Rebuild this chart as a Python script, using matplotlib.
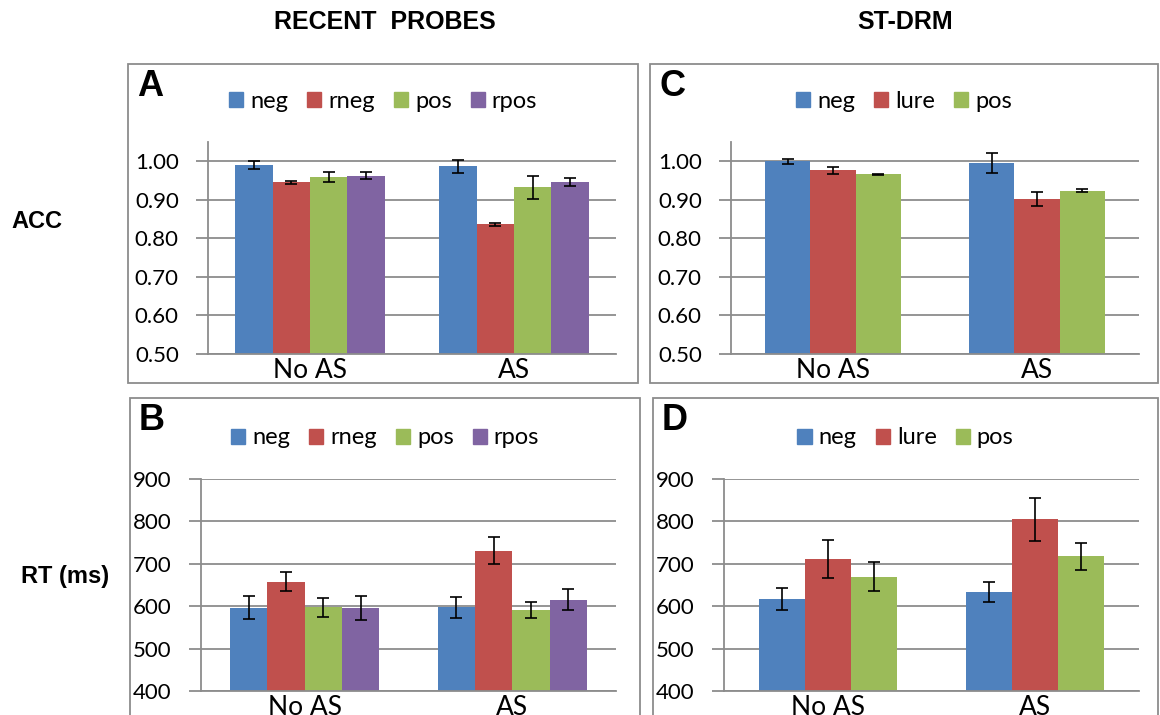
import numpy as np
import matplotlib
matplotlib.use("Agg")
import matplotlib.pyplot as plt
from matplotlib.patches import Rectangle, Patch

W, H = 1160, 715

groups = ["No AS", "AS"]

# A: accuracy, recent probes
acc_rp_names = ["neg", "rneg", "pos", "rpos"]
acc_rp_vals = [[0.990, 0.987], [0.945, 0.836], [0.960, 0.933], [0.963, 0.946]]
acc_rp_err = [[0.010, 0.017], [0.004, 0.005], [0.013, 0.030], [0.009, 0.011]]

# B: RT, recent probes
rt_rp_names = ["neg", "rneg", "pos", "rpos"]
rt_rp_vals = [[596, 597], [658, 731], [597, 591], [596, 615]]
rt_rp_err = [[27, 24], [23, 32], [23, 20], [28, 25]]

# C: accuracy, ST-DRM
acc_st_names = ["neg", "lure", "pos"]
acc_st_vals = [[1.000, 0.996], [0.977, 0.902], [0.966, 0.924]]
acc_st_err = [[0.006, 0.026], [0.009, 0.017], [0.001, 0.003]]

# D: RT, ST-DRM
rt_st_names = ["neg", "lure", "pos"]
rt_st_vals = [[618, 633], [711, 805], [670, 718]]
rt_st_err = [[26, 24], [45, 51], [34, 32]]

acc_ticks = [0.5, 0.6, 0.7, 0.8, 0.9, 1.0]
rt_ticks = [400, 500, 600, 700, 800, 900]

colors = ["#4F81BD", "#C0504D", "#9BBB59", "#8064A2"]
grey = "#8c8c8c"
tick_font = "Lato"
bold_font = "Liberation Sans"

fig = plt.figure(figsize=(W / 100, H / 100), dpi=100)


def px_axes(x0, y0, x1, y1):
    # pixel box (top-left origin) -> figure axes
    return fig.add_axes([x0 / W, 1 - y1 / H, (x1 - x0) / W, (y1 - y0) / H])


def frame(x0, y0, x1, y1):
    fig.patches.append(Rectangle((x0 / W, 1 - y1 / H), (x1 - x0) / W, (y1 - y0) / H,
                                 transform=fig.transFigure, fill=False,
                                 edgecolor=grey, lw=1.3, zorder=0))


def panel(box, area, letter, names, vals, errs, bw, ylim, ticks, fmt, leg_y):
    frame(*box)
    ax = px_axes(*area)
    n = len(names)
    x = np.arange(len(groups))
    for i in range(n):
        off = (i - (n - 1) / 2) * bw
        ax.bar(x + off, vals[i], bw, color=colors[i], zorder=2)
        ax.errorbar(x + off, vals[i], yerr=errs[i], fmt="none", ecolor="black",
                    elinewidth=1.2, capsize=4, capthick=1.2, zorder=3)
    ax.set_xlim(-0.5, 1.5)
    ax.set_ylim(*ylim)
    ax.set_yticks(ticks)
    ax.set_yticklabels([fmt.format(t) for t in ticks], fontsize=16, family=tick_font)
    ax.set_xticks(x)
    ax.set_xticklabels(groups, fontsize=19, family=tick_font)
    ax.tick_params(axis="x", length=0, pad=3)
    ax.tick_params(axis="y", length=9, width=1.3, color=grey, pad=12)
    ax.yaxis.grid(True, color=grey, lw=1.3)
    ax.set_axisbelow(True)
    for s in ["top", "right"]:
        ax.spines[s].set_visible(False)
    for s in ["left", "bottom"]:
        ax.spines[s].set_color(grey)
        ax.spines[s].set_linewidth(1.3)
    ax.patch.set_alpha(0)

    cx = (box[0] + box[2]) / 2
    handles = [Patch(color=colors[i], label=names[i]) for i in range(n)]
    fig.legend(handles=handles, loc="center", bbox_to_anchor=(cx / W, 1 - leg_y / H),
               ncol=n, frameon=False, prop={"family": tick_font, "size": 17},
               handlelength=0.6, handleheight=0.6, handletextpad=0.3,
               columnspacing=0.8)
    fig.text((box[0] + 9) / W, 1 - (box[1] + 22) / H, letter, fontsize=26,
             fontweight="bold", family=bold_font, va="center", ha="left")
    return ax


panel((128, 64, 638, 383), (208, 142, 616, 354), "A", acc_rp_names, acc_rp_vals,
      acc_rp_err, 0.183, (0.5, 1.05), acc_ticks, "{:.2f}", 101)
panel((650, 64, 1158, 383), (731, 142, 1139, 354), "C", acc_st_names, acc_st_vals,
      acc_st_err, 0.223, (0.5, 1.05), acc_ticks, "{:.2f}", 101)
panel((130, 398, 640, 740), (201, 479, 616, 691), "B", rt_rp_names, rt_rp_vals,
      rt_rp_err, 0.18, (400, 900), rt_ticks, "{:d}", 438)
panel((653, 398, 1158, 740), (724, 479, 1139, 691), "D", rt_st_names, rt_st_vals,
      rt_st_err, 0.222, (400, 900), rt_ticks, "{:d}", 438)

fig.text(385 / W, 1 - 22 / H, "RECENT  PROBES", fontsize=18, fontweight="bold",
         family=bold_font, ha="center", va="center")
fig.text(905 / W, 1 - 22 / H, "ST-DRM", fontsize=18, fontweight="bold",
         family=bold_font, ha="center", va="center")
fig.text(37 / W, 1 - 222 / H, "ACC", fontsize=17, fontweight="bold",
         family=bold_font, ha="center", va="center")
fig.text(65 / W, 1 - 576 / H, "RT (ms)", fontsize=17, fontweight="bold",
         family=bold_font, ha="center", va="center")

fig.savefig("out.png", dpi=100)
